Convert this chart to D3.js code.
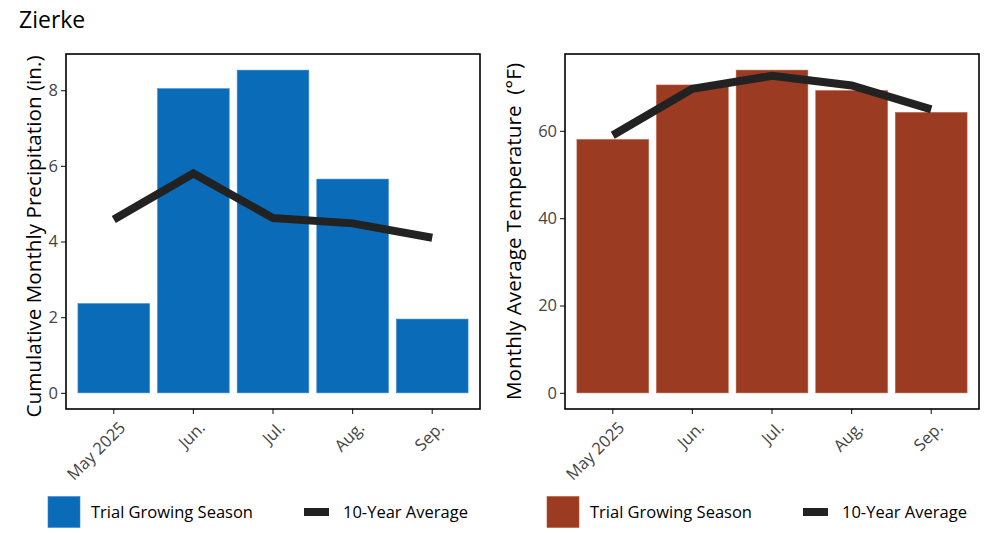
<!DOCTYPE html>
<html>
<head>
<meta charset="utf-8">
<script src="https://cdn.jsdelivr.net/npm/d3@7"></script>
<style>
  body { margin: 0; background: #fff; }
  svg { font-family: "Open Sans", "Noto Sans", sans-serif; }
</style>
</head>
<body>
<div id="chart"></div>
<script>
// months shared by both panels
var months = ["May 2025", "Jun.", "Jul.", "Aug.", "Sep."];

// precipitation (in.)
var precipTrial = [2.36, 8.04, 8.53, 5.65, 1.95];
var precipAvg = [4.58, 5.80, 4.62, 4.48, 4.10];
var precipTicks = [0, 2, 4, 6, 8];

// temperature (°F)
var tempTrial = [58.0, 70.5, 73.9, 69.2, 64.2];
var tempAvg = [59.0, 69.6, 72.6, 70.4, 64.9];
var tempTicks = [0, 20, 40, 60];

var legendLabels = ["Trial Growing Season", "10-Year Average"];

var W = 1000, H = 533;
var plotTop = 54, plotBottom = 409;

var svg = d3.select("#chart").append("svg")
    .attr("width", W)
    .attr("height", H);

svg.append("text")
    .attr("x", 19)
    .attr("y", 28)
    .attr("font-size", 23)
    .attr("fill", "#000")
    .text("Zierke");

var drawPanel = (opt) => {
    var g = svg.append("g");
    var maxV = d3.max(opt.trial.concat(opt.avg));
    var pad = maxV * 0.05;

    // ggplot-like discrete axis: 0.6 of a step on each side
    var x = d3.scaleBand()
        .domain(months)
        .range([opt.left, opt.right])
        .paddingInner(0.1)
        .paddingOuter(0.15);

    var y = d3.scaleLinear()
        .domain([-pad, maxV + pad])
        .range([plotBottom, plotTop]);

    // bars
    g.selectAll("rect.bar")
        .data(opt.trial)
        .join("rect")
        .attr("class", "bar")
        .attr("x", (d, i) => x(months[i]))
        .attr("width", x.bandwidth())
        .attr("y", d => y(d))
        .attr("height", d => y(0) - y(d))
        .attr("fill", opt.color)
        .attr("stroke", opt.edge)
        .attr("stroke-width", 0.6);

    // 10-year average line
    var line = d3.line()
        .x((d, i) => x(months[i]) + x.bandwidth() / 2)
        .y(d => y(d));
    g.append("path")
        .datum(opt.avg)
        .attr("d", line)
        .attr("fill", "none")
        .attr("stroke", "#222")
        .attr("stroke-width", 8);

    // y axis
    var yAxis = g.append("g")
        .attr("transform", `translate(${opt.left},0)`)
        .call(d3.axisLeft(y).tickValues(opt.ticks).tickSize(5).tickPadding(3).tickFormat(d3.format("d")));
    yAxis.select(".domain").remove();
    yAxis.selectAll("line").attr("stroke", "#222").attr("stroke-width", 1.1);
    yAxis.selectAll("text").attr("font-size", 16.5).attr("fill", "#444");

    // x axis
    var xAxis = g.append("g")
        .attr("transform", `translate(0,${plotBottom})`)
        .call(d3.axisBottom(x).tickSize(5).tickPadding(3));
    xAxis.select(".domain").remove();
    xAxis.selectAll("line").attr("stroke", "#222").attr("stroke-width", 1.1);
    xAxis.selectAll("text")
        .attr("font-size", 16.5)
        .attr("fill", "#444")
        .attr("text-anchor", "end")
        .attr("dy", "0.35em")
        .attr("transform", "translate(3,10) rotate(-45)");
    yAxis.attr("font-family", null);
    xAxis.attr("font-family", null);

    // panel border
    g.append("rect")
        .attr("x", opt.left)
        .attr("y", plotTop)
        .attr("width", opt.right - opt.left)
        .attr("height", plotBottom - plotTop)
        .attr("fill", "none")
        .attr("stroke", "#000")
        .attr("stroke-width", 1.6);

    // y title
    g.append("text")
        .attr("transform", `translate(${opt.titleX},${(plotTop + plotBottom) / 2 + opt.titleShift}) rotate(-90)`)
        .attr("text-anchor", "middle")
        .attr("font-size", 20.7)
        .attr("fill", "#000")
        .style("white-space", "pre")
        .text(opt.title);

    // legend
    var lg = g.append("g").attr("transform", `translate(${opt.legendX},512)`);
    lg.append("rect")
        .attr("x", 0).attr("y", -15.5)
        .attr("width", 32).attr("height", 31)
        .attr("fill", opt.color)
        .attr("stroke", opt.edge)
        .attr("stroke-width", 0.6);
    lg.append("text")
        .attr("x", 43).attr("y", 0)
        .attr("dy", "0.35em")
        .attr("font-size", 16.5)
        .attr("fill", "#000")
        .text(legendLabels[0]);
    lg.append("line")
        .attr("x1", 256).attr("x2", 281)
        .attr("y1", 0).attr("y2", 0)
        .attr("stroke", "#222")
        .attr("stroke-width", 8);
    lg.append("text")
        .attr("x", 295).attr("y", 0)
        .attr("dy", "0.35em")
        .attr("font-size", 16.5)
        .attr("fill", "#000")
        .text(legendLabels[1]);
};

drawPanel({
    left: 66, right: 480,
    trial: precipTrial, avg: precipAvg, ticks: precipTicks,
    color: "#0a6cb8", edge: "#3a8ad0",
    title: "Cumulative Monthly Precipitation (in.)",
    titleX: 41, titleShift: 5,
    legendX: 48
});

drawPanel({
    left: 565, right: 979,
    trial: tempTrial, avg: tempAvg, ticks: tempTicks,
    color: "#9b3b22", edge: "#b8553a",
    title: "Monthly Average Temperature  (°F)",
    titleX: 521, titleShift: 0,
    legendX: 547
});
</script>
</body>
</html>
